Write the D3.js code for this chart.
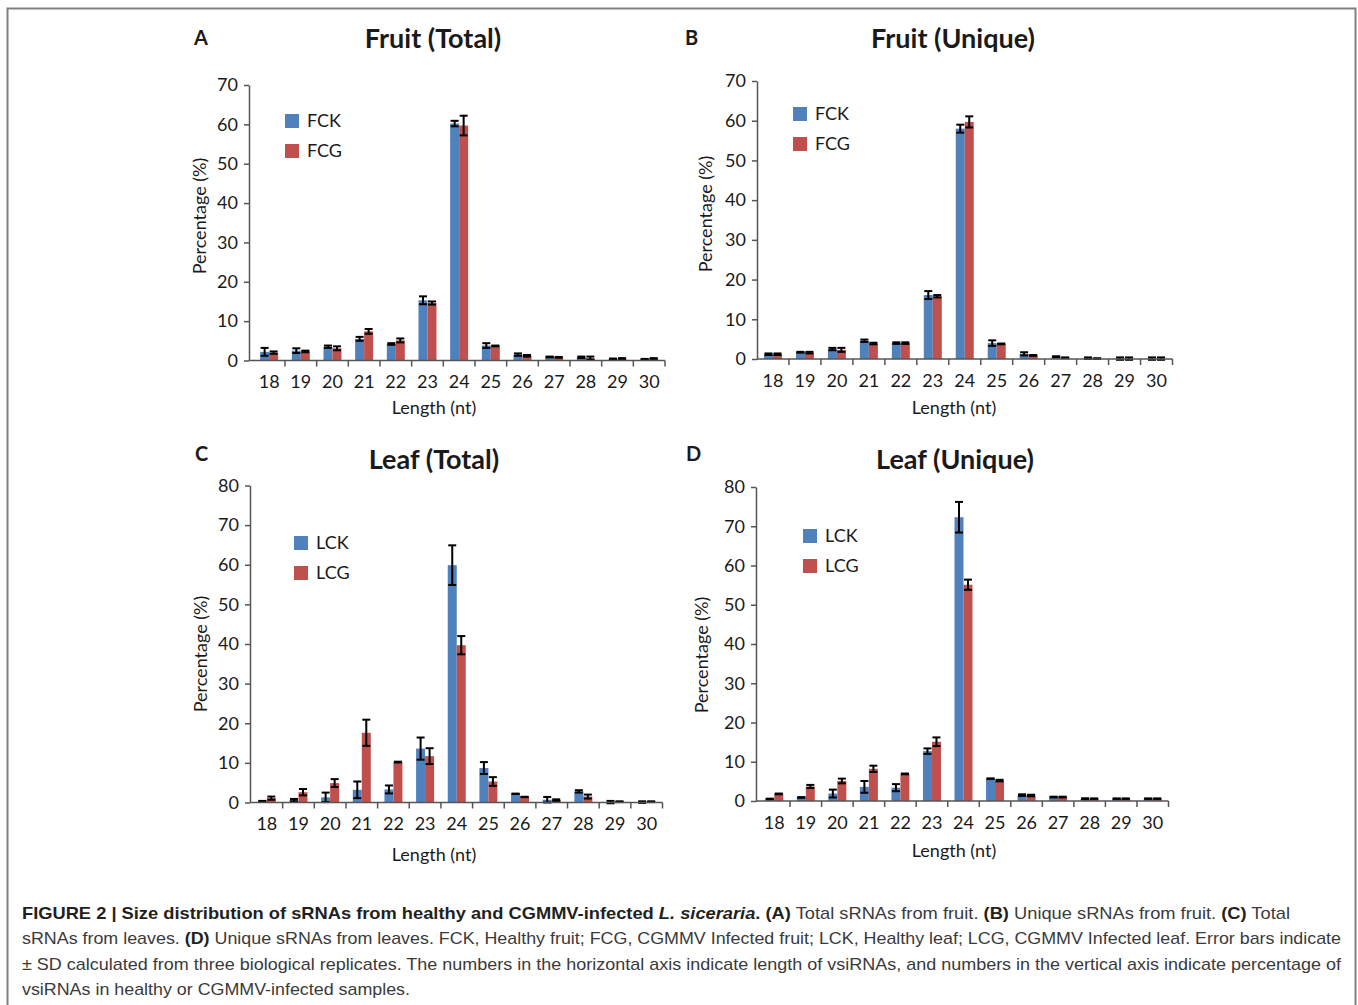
<!DOCTYPE html>
<html>
<head>
<meta charset="utf-8">
<script src="https://cdn.jsdelivr.net/npm/d3@7"></script>
<style>
  html, body { margin: 0; padding: 0; background: #fff; }
  svg { display: block; }
  .chart text { font-family: Lato, "Open Sans", "DejaVu Sans", sans-serif; fill: #1a1a1a; }
  .cap { font-family: "Liberation Sans Narrow", "Liberation Sans", Arial, sans-serif; }
</style>
</head>
<body>
<svg id="fig" width="1358" height="1005"></svg>
<script>
// ---------------- DATA ----------------
const categories = ["18","19","20","21","22","23","24","25","26","27","28","29","30"];

const fruitSeries = ["FCK", "FCG"];
const leafSeries = ["LCK", "LCG"];

const fruitTicks = [0, 10, 20, 30, 40, 50, 60, 70];
const leafTicks = [0, 10, 20, 30, 40, 50, 60, 70, 80];

// A: Fruit (Total)
const fruitTotalFCK   = [2.2, 2.5, 3.5, 5.5, 4.2, 15.3, 60.2, 3.8, 1.5, 0.9, 0.8, 0.4, 0.3];
const fruitTotalFCKsd = [1.0, 0.6, 0.3, 0.5, 0.2, 1.0, 0.7, 0.6, 0.3, 0.1, 0.2, 0.1, 0.1];
const fruitTotalFCG   = [2.0, 2.3, 3.1, 7.4, 5.1, 14.6, 59.7, 3.7, 1.2, 0.8, 0.6, 0.5, 0.5];
const fruitTotalFCGsd = [0.3, 0.2, 0.5, 0.6, 0.5, 0.4, 2.5, 0.1, 0.2, 0.1, 0.4, 0.1, 0.1];

// B: Fruit (Unique)
const fruitUniqueFCK   = [1.2, 1.7, 2.5, 4.6, 4.0, 16.1, 58.0, 4.0, 1.3, 0.6, 0.2, 0.1, 0.1];
const fruitUniqueFCKsd = [0.2, 0.1, 0.3, 0.3, 0.2, 1.0, 1.0, 0.7, 0.4, 0.1, 0.2, 0.3, 0.3];
const fruitUniqueFCG   = [1.2, 1.6, 2.3, 3.9, 4.0, 15.8, 59.7, 3.8, 0.9, 0.3, 0.1, 0.1, 0.1];
const fruitUniqueFCGsd = [0.2, 0.2, 0.5, 0.2, 0.2, 0.3, 1.4, 0.1, 0.1, 0.1, 0.1, 0.3, 0.3];

// C: Leaf (Total)
const leafTotalLCK   = [0.3, 0.6, 1.3, 3.2, 3.3, 13.6, 59.9, 8.7, 2.2, 0.7, 2.8, 0.1, 0.1];
const leafTotalLCKsd = [0.1, 0.3, 1.2, 2.1, 1.0, 2.8, 5.0, 1.5, 0.05, 0.7, 0.3, 0.3, 0.2];
const leafTotalLCG   = [1.1, 2.6, 4.9, 17.6, 10.2, 11.7, 39.7, 5.3, 1.4, 0.6, 1.5, 0.2, 0.2];
const leafTotalLCGsd = [0.4, 0.8, 1.0, 3.3, 0.1, 2.0, 2.3, 1.1, 0.05, 0.2, 0.5, 0.1, 0.1];

// D: Leaf (Unique)
const leafUniqueLCK   = [0.5, 0.9, 1.9, 3.6, 3.4, 12.7, 72.3, 5.7, 1.5, 1.0, 0.6, 0.6, 0.6];
const leafUniqueLCKsd = [0.1, 0.1, 1.0, 1.5, 0.9, 0.7, 3.9, 0.05, 0.2, 0.1, 0.1, 0.05, 0.05];
const leafUniqueLCG   = [1.8, 3.7, 5.1, 8.2, 6.9, 15.1, 55.1, 5.2, 1.4, 1.0, 0.6, 0.6, 0.6];
const leafUniqueLCGsd = [0.1, 0.4, 0.6, 0.8, 0.1, 1.1, 1.3, 0.2, 0.2, 0.1, 0.05, 0.05, 0.05];

const panelLetters = ["A", "B", "C", "D"];
const panelTitles = ["Fruit (Total)", "Fruit (Unique)", "Leaf (Total)", "Leaf (Unique)"];
const yAxisTitle = "Percentage (%)";
const xAxisTitle = "Length (nt)";

const captionLines = [
  [["b","FIGURE 2 | Size distribution of sRNAs from healthy and CGMMV-infected "],["bi","L. siceraria"],["b",". "],["b","(A)"],["r"," Total sRNAs from fruit. "],["b","(B)"],["r"," Unique sRNAs from fruit. "],["b","(C)"],["r"," Total"]],
  [["r","sRNAs from leaves. "],["b","(D)"],["r"," Unique sRNAs from leaves. FCK, Healthy fruit; FCG, CGMMV Infected fruit; LCK, Healthy leaf; LCG, CGMMV Infected leaf. Error bars indicate"]],
  [["r","\u00B1 SD calculated from three biological replicates. The numbers in the horizontal axis indicate length of vsiRNAs, and numbers in the vertical axis indicate percentage of"]],
  [["r","vsiRNAs in healthy or CGMMV-infected samples."]]
];

// ---------------- LAYOUT ----------------
const colors = ["#4F81BD", "#C0504D"];

const panels = [
  { series: fruitSeries, vals: [fruitTotalFCK, fruitTotalFCG], sds: [fruitTotalFCKsd, fruitTotalFCGsd], ticks: fruitTicks,
    axisX: 249, left: 253.3, right: 665, y0: 360.5, yTop: 85, letter: [194, 45], title: [433, 48],
    legend: [285, 114], ylab: [206, 216], xlab: [434, 414] },
  { series: fruitSeries, vals: [fruitUniqueFCK, fruitUniqueFCG], sds: [fruitUniqueFCKsd, fruitUniqueFCGsd], ticks: fruitTicks,
    axisX: 757, left: 757, right: 1172.5, y0: 359, yTop: 81, letter: [685, 45], title: [953, 48],
    legend: [793, 107], ylab: [712, 214], xlab: [954, 414] },
  { series: leafSeries, vals: [leafTotalLCK, leafTotalLCG], sds: [leafTotalLCKsd, leafTotalLCGsd], ticks: leafTicks,
    axisX: 250, left: 251, right: 662.5, y0: 802.5, yTop: 485.5, letter: [195, 461], title: [434, 469],
    legend: [294, 536], ylab: [207, 654], xlab: [434, 861] },
  { series: leafSeries, vals: [leafUniqueLCK, leafUniqueLCG], sds: [leafUniqueLCKsd, leafUniqueLCGsd], ticks: leafTicks,
    axisX: 756, left: 758.5, right: 1168.5, y0: 801, yTop: 487, letter: [686, 461], title: [955, 469],
    legend: [803, 529], ylab: [708, 655], xlab: [954, 857] }
];

const svg = d3.select("#fig");
svg.append("rect").attr("width", 1358).attr("height", 1005).attr("fill", "#fff");
// frame
svg.append("rect").attr("x", 7.5).attr("y", 8.5).attr("width", 1348).attr("height", 1010)
  .attr("fill", "none").attr("stroke", "#808080").attr("stroke-width", 2);

const chart = svg.append("g").attr("class", "chart");

panels.forEach((p, pi) => {
  const g = chart.append("g");
  const x = d3.scaleBand().domain(categories).range([p.left, p.right]).paddingInner(0).paddingOuter(0);
  const barW = 9;
  const xs = d3.scaleBand().domain(p.series).range([x.bandwidth() / 2 - barW, x.bandwidth() / 2 + barW]);
  const y = d3.scaleLinear().domain([0, d3.max(p.ticks)]).range([p.y0, p.yTop]);

  // bars
  p.series.forEach((s, si) => {
    const data = categories.map((c, i) => ({ c, v: p.vals[si][i], sd: p.sds[si][i] }));
    g.append("g").selectAll("rect").data(data).join("rect")
      .attr("x", d => x(d.c) + xs(s))
      .attr("y", d => y(d.v))
      .attr("width", xs.bandwidth())
      .attr("height", d => y(0) - y(d.v))
      .attr("fill", colors[si]);
  });

  // error bars
  p.series.forEach((s, si) => {
    const data = categories.map((c, i) => ({ c, v: p.vals[si][i], sd: p.sds[si][i] }));
    const eg = g.append("g").attr("stroke", "#000").attr("stroke-width", 2);
    const cx = d => x(d.c) + xs(s) + xs.bandwidth() / 2;
    const lo = d => y(Math.max(d.v - d.sd, -0.4));
    eg.selectAll("line.v").data(data).join("line").attr("class", "v")
      .attr("x1", cx).attr("x2", cx)
      .attr("y1", d => y(d.v + d.sd)).attr("y2", lo);
    eg.selectAll("line.t").data(data).join("line").attr("class", "t")
      .attr("x1", d => cx(d) - 4).attr("x2", d => cx(d) + 4)
      .attr("y1", d => y(d.v + d.sd)).attr("y2", d => y(d.v + d.sd));
    eg.selectAll("line.b").data(data).join("line").attr("class", "b")
      .attr("x1", d => cx(d) - 4).attr("x2", d => cx(d) + 4)
      .attr("y1", lo).attr("y2", lo);
  });

  // y axis
  const ya = g.append("g").attr("transform", `translate(${p.axisX},0)`)
    .call(d3.axisLeft(y).tickValues(p.ticks).tickSize(5).tickPadding(6).tickSizeOuter(0));
  ya.select(".domain").attr("stroke", "#555").attr("stroke-width", 1.5);
  ya.selectAll(".tick line").attr("stroke", "#555").attr("stroke-width", 1.5);
  ya.selectAll(".tick text").attr("font-size", 18).attr("font-family", "Lato, sans-serif").attr("fill", "#1a1a1a");

  // x axis
  const xa = g.append("g").attr("transform", `translate(0,${p.y0})`)
    .call(d3.axisBottom(x).tickSize(0).tickPadding(15).tickSizeOuter(0));
  xa.select(".domain").remove();
  xa.append("line").attr("x1", p.axisX).attr("x2", p.right).attr("stroke", "#555").attr("stroke-width", 1.5);
  xa.selectAll(".tick text").attr("font-size", 18).attr("font-family", "Lato, sans-serif").attr("fill", "#1a1a1a");
  xa.selectAll("line.bt").data(categories).join("line").attr("class", "bt")
    .attr("x1", c => x(c) + x.bandwidth()).attr("x2", c => x(c) + x.bandwidth())
    .attr("y1", 0).attr("y2", 6).attr("stroke", "#555").attr("stroke-width", 1.5);

  // titles
  g.append("text").attr("x", p.letter[0]).attr("y", p.letter[1])
    .attr("font-family", "'Liberation Sans', Arial, sans-serif").attr("font-weight", "bold").attr("font-size", 20)
    .text(panelLetters[pi]);
  g.append("text").attr("x", p.title[0]).attr("y", p.title[1]).attr("text-anchor", "middle")
    .attr("font-weight", "bold").attr("font-size", 27).text(panelTitles[pi]);
  g.append("text").attr("transform", `translate(${p.ylab[0]},${p.ylab[1]}) rotate(-90)`)
    .attr("text-anchor", "middle").attr("font-size", 18).text(yAxisTitle);
  g.append("text").attr("x", p.xlab[0]).attr("y", p.xlab[1]).attr("text-anchor", "middle")
    .attr("font-size", 18).text(xAxisTitle);

  // legend
  p.series.forEach((s, si) => {
    const ly = p.legend[1] + si * 30;
    g.append("rect").attr("x", p.legend[0]).attr("y", ly).attr("width", 14).attr("height", 14).attr("fill", colors[si]);
    g.append("text").attr("x", p.legend[0] + 22).attr("y", ly + 13).attr("font-size", 18).text(s);
  });
});

// caption
const capBase = [919, 944, 970, 995];
const capLen = [1268, 1319, 1319, 388];
captionLines.forEach((line, li) => {
  const t = svg.append("text").attr("class", "cap").attr("x", 22).attr("y", capBase[li])
    .attr("font-size", 17).attr("textLength", capLen[li]).attr("lengthAdjust", "spacingAndGlyphs");
  line.forEach(([style, str]) => {
    const ts = t.append("tspan").text(str);
    if (style === "b" || style === "bi") ts.attr("font-weight", "bold").attr("fill", "#231f20");
    else ts.attr("fill", "#3a3a3a");
    if (style === "bi") ts.attr("font-style", "italic");
  });
});
</script>
</body>
</html>
